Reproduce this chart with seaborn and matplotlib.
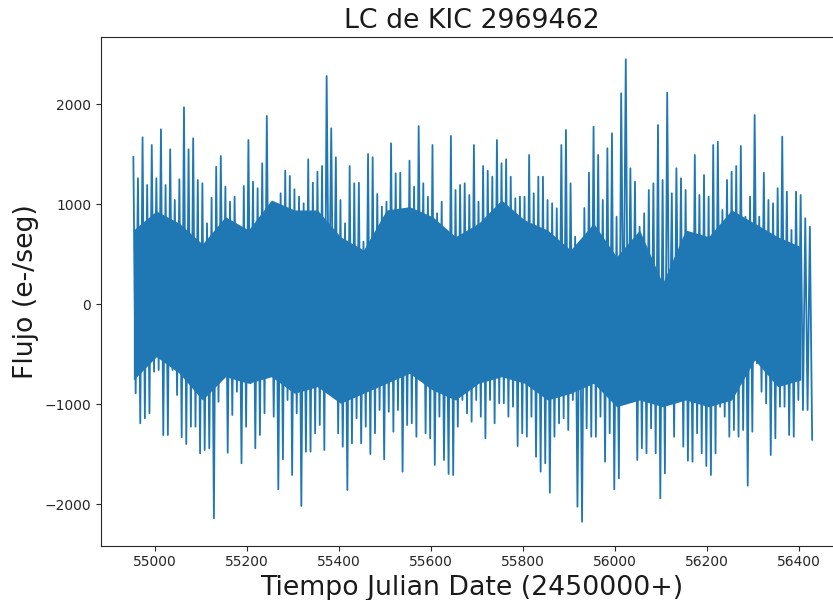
import numpy as np
import pandas as pd
import matplotlib
matplotlib.use("Agg")
import matplotlib.pyplot as plt
import seaborn as sns

# Light curve: spike extremes in 10-day bins
t_start = 54953.0
bin_days = 10.0
upper = [1473, 1257, 1667, 1190, 1590, 1257, 1747, 1190, 1547, 1040,
         1247, 1967, 1547, 1657, 1240, 1207, 807, 1063, 1373, 1480,
         1173, 1023, 1073, 673, 1180, 1640, 1223, 1157, 1407, 1880,
         1000, 990, 1107, 1333, 1280, 1147, 1073, 1007, 1447, 1213,
         1323, 1380, 2280, 1757, 1467, 1040, 807, 1380, 1207, 1213,
         623, 1500, 1467, 1100, 973, 1023, 1607, 1307, 1313, 907,
         1433, 1173, 1780, 1207, 1073, 1590, 907, 1023, 650, 1680,
         1140, 1190, 1207, 1090, 1590, 1023, 1380, 1333, 1273, 1640,
         1407, 1447, 1273, 1057, 1073, 1073, 1490, 1107, 1273, 1273,
         1040, 1007, 957, 1590, 1740, 1207, 673, 490, 960, 1313,
         1773, 1490, 1040, 1557, 1707, 873, 2107, 2447, 1357, 1223,
         773, 907, 1140, 1207, 1790, 1240, 2113, 1107, 1357, 1257,
         1140, 607, 1490, 1090, 1290, 1073, 1590, 1623, 940, 1240,
         1323, 1380, 1580, 873, 1073, 1890, 873, 1313, 1040, 1007,
         1157, 1673, 1123, 740, 1123, 1090, 857, 773]
lower = [-893, -1193, -1143, -1093, -677, -660, -1310, -1310, -660, -910,
         -1333, -1400, -1227, -1227, -1493, -1460, -1443, -2143, -977, -693,
         -1487, -1110, -877, -1593, -1227, -793, -1443, -1310, -1093, -677,
         -1127, -1853, -1553, -960, -1710, -1093, -2020, -1477, -1477, -1293,
         -1210, -1460, -250, -627, -1293, -1427, -1860, -1393, -1143, -1393,
         -1227, -1500, -1293, -1060, -1553, -1077, -1277, -1060, -1677, -1210,
         -1193, -1327, -727, -1293, -1343, -1610, -1127, -1560, -1700, -1710,
         -1227, -960, -1093, -1177, -960, -1127, -1343, -960, -1193, -993,
         -993, -1127, -1027, -1420, -1293, -1327, -1127, -1527, -1677, -1593,
         -1887, -1327, -1193, -1143, -1260, -960, -2027, -2177, -1243, -1327,
         -1327, -1127, -1577, -1293, -1853, -1743, -460, -810, -960, -1560,
         -1443, -1493, -1243, -1493, -1943, -1693, -827, -1327, -777, -1427,
         -1567, -1577, -1293, -1493, -1620, -1710, -1493, -1027, -1127, -1327,
         -1260, -1327, -1260, -1817, -1277, -593, -877, -993, -1510, -1343,
         -1027, -1027, -1310, -1327, -960, -1060, -1060, -1360]
# Solid body of the curve, read every 50 days
core_days = [54953, 55003, 55053, 55103, 55153, 55203, 55253, 55303, 55353, 55403,
             55453, 55503, 55553, 55603, 55653, 55703, 55753, 55803, 55853, 55903,
             55953, 56003, 56053, 56103, 56153, 56203, 56253, 56303, 56353, 56403]
core_top = [740, 930, 807, 600, 873, 740, 1040, 940, 940, 673,
            540, 940, 973, 873, 673, 807, 1040, 840, 740, 540,
            807, 473, 740, 207, 740, 673, 940, 807, 673, 573]
core_bottom = [-760, -527, -693, -960, -727, -793, -727, -893, -827, -993,
               -893, -793, -693, -860, -960, -793, -727, -793, -960, -893,
               -793, -1027, -960, -1027, -960, -1027, -960, -560, -827, -760]

title = "LC de KIC 2969462"
xlabel = "Tiempo Julian Date (2450000+)"
ylabel = "Flujo (e-/seg)"

# zigzag series: peak at bin start, trough half a bin later
n = len(upper)
t_up = t_start + bin_days * np.arange(n)
t_lo = t_up + bin_days / 2
times = np.empty(2 * n)
flux = np.empty(2 * n)
times[0::2] = t_up
times[1::2] = t_lo
flux[0::2] = upper
flux[1::2] = lower
df = pd.DataFrame({"time": times, "flux": flux})

sns.set_style("ticks")
plt.rcParams["font.family"] = ["DejaVu Sans"]

fig = plt.figure(figsize=(8.33, 6.0), dpi=100)
ax = fig.add_axes([101 / 833, (600 - 545.7) / 600, 742.5 / 833, (545.7 - 36.7) / 600])

color = "#1f77b4"
ax.fill_between(core_days, core_bottom, core_top, color=color, linewidth=0)
sns.lineplot(data=df, x="time", y="flux", ax=ax, color=color, linewidth=1.3,
             estimator=None, sort=False)

ax.set_xlim(54882.7, 56496.1)
ax.set_ylim(-2417, 2673)
ax.set_xticks([55000, 55200, 55400, 55600, 55800, 56000, 56200, 56400])
ax.set_yticks([-2000, -1000, 0, 1000, 2000])
ax.tick_params(labelsize=10, length=3.5, width=0.8, colors="#262626")
for s in ax.spines.values():
    s.set_linewidth(0.8)
    s.set_color("#262626")
    s.set_visible(True)

ax.set_title(title, fontsize=19.3, color="#1a1a1a")
ax.set_xlabel(xlabel, fontsize=19.3, color="#1a1a1a")
ax.set_ylabel(ylabel, fontsize=19.3, color="#1a1a1a")

fig.savefig("out.png", dpi=100)
